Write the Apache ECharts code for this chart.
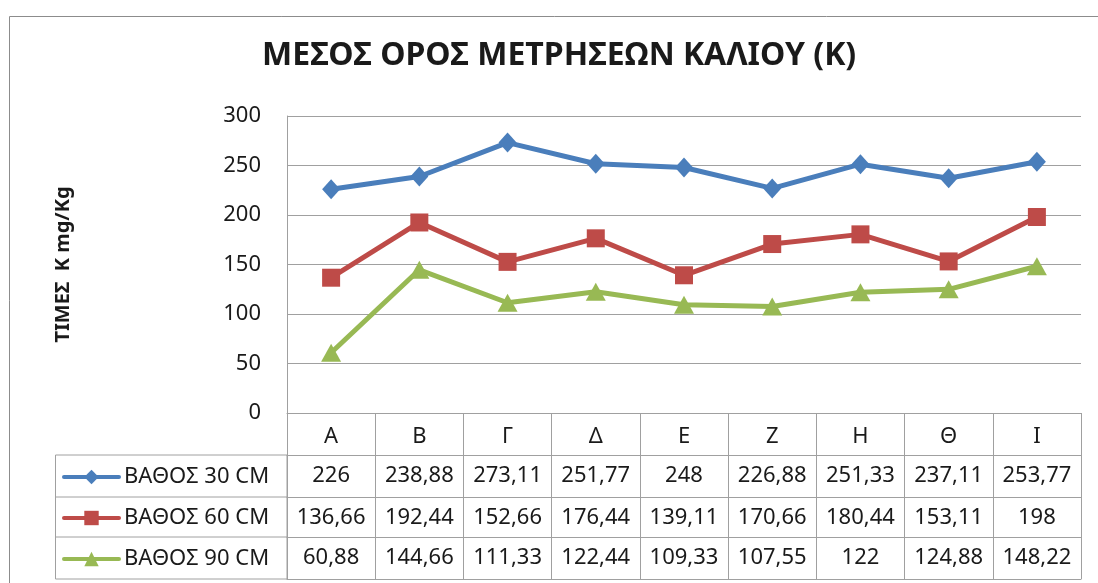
<!DOCTYPE html>
<html><head><meta charset="utf-8">
<script src="https://cdn.jsdelivr.net/npm/echarts@6/dist/echarts.min.js"></script>
<style>html,body{margin:0;padding:0;background:#fff}#c{width:1098px;height:583px}</style>
</head><body><div id="c"></div>
<script>
const categories = ['Α','Β','Γ','Δ','Ε','Ζ','Η','Θ','Ι'];
const seriesNames = ['ΒΑΘΟΣ 30 CM','ΒΑΘΟΣ 60 CM','ΒΑΘΟΣ 90 CM'];
const depth30 = [226,238.88,273.11,251.77,248,226.88,251.33,237.11,253.77];
const depth60 = [136.66,192.44,152.66,176.44,139.11,170.66,180.44,153.11,198];
const depth90 = [60.88,144.66,111.33,122.44,109.33,107.55,122,124.88,148.22];
const yMin = 0, yMax = 300, yStep = 50;
const titleText = 'ΜΕΣΟΣ ΟΡΟΣ ΜΕΤΡΗΣΕΩΝ ΚΑΛΙΟΥ (Κ)';
const yName = 'ΤΙΜΕΣ  Κ mg/Kg';

const FONT = '"Noto Sans", "DejaVu Sans", sans-serif';
const GRID = '#a0a0a0';
const TXT = '#1a1a1a';
const colors = ['#4A7EBB', '#BE4B48', '#98B954'];
const symbols = ['diamond', 'rect', 'triangle'];
const symSizes = [[18, 20], 18, [20, 18]];
const allSeries = [depth30, depth60, depth90];
const fmt = v => String(v).replace('.', ',');

const chart = echarts.init(document.getElementById('c'), null, {renderer: 'canvas'});

const xAxes = [{
  type: 'category', data: categories, boundaryGap: true, gridIndex: 0, position: 'bottom',
  axisLine: {show: true, lineStyle: {color: GRID, width: 1}},
  axisTick: {show: true, length: 166, lineStyle: {color: GRID, width: 1}},
  axisLabel: {interval: 0, fontSize: 22, color: TXT, fontFamily: FONT, margin: 13}
}];
const offsets = [42, 84, 124];
allSeries.forEach((arr, k) => {
  xAxes.push({
    type: 'category', data: categories, boundaryGap: true, gridIndex: 0, position: 'bottom', offset: offsets[k],
    axisLine: {show: true, lineStyle: {color: GRID, width: 1}},
    axisTick: {show: false},
    axisLabel: {interval: 0, fontSize: 22, color: TXT, fontFamily: FONT, margin: 10,
      formatter: (val, idx) => fmt(arr[idx])}
  });
});
xAxes.push({
  type: 'category', data: categories, boundaryGap: true, gridIndex: 0, position: 'bottom', offset: 166,
  axisLine: {show: true, lineStyle: {color: GRID, width: 1}},
  axisTick: {show: false}, axisLabel: {show: false}
});

chart.setOption({
  animation: false,
  backgroundColor: '#fff',
  title: {
    text: titleText, left: 262, top: 40, padding: 0,
    textStyle: {fontSize: 32, fontWeight: 'bold', color: TXT, fontFamily: FONT}
  },
  grid: {left: 287, right: 17, top: 116, bottom: 170, containLabel: false},
  legend: {
    orient: 'vertical', left: 62, top: 466, padding: 0, itemWidth: 55, itemHeight: 18, itemGap: 19,
    data: seriesNames,
    lineStyle: {width: 4, cap: 'round'},
    textStyle: {fontSize: 22, color: TXT, fontFamily: FONT, lineHeight: 22}
  },
  xAxis: xAxes,
  yAxis: {
    type: 'value', min: yMin, max: yMax, interval: yStep,
    name: yName, nameLocation: 'middle', nameRotate: 90, nameGap: 214,
    nameTextStyle: {fontSize: 20, fontWeight: 'bold', color: TXT, fontFamily: FONT},
    axisLine: {show: true, lineStyle: {color: GRID, width: 1}},
    axisTick: {show: false},
    splitLine: {lineStyle: {color: GRID, width: 1}},
    axisLabel: {fontSize: 22, color: TXT, fontFamily: FONT, margin: 26}
  },
  series: allSeries.map((arr, k) => ({
    name: seriesNames[k], type: 'line', data: arr, xAxisIndex: 0,
    symbol: symbols[k], symbolSize: symSizes[k], showAllSymbol: true,
    lineStyle: {color: colors[k], width: 5},
    itemStyle: {color: colors[k]}
  })),
  graphic: [
    {type: 'rect', shape: {x: 9.5, y: 16.5, width: 1300, height: 1000}, style: {fill: null, stroke: '#8c8c8c', lineWidth: 1}, silent: true, z: -1},
    {type: 'rect', shape: {x: 55.5, y: 455, width: 231.5, height: 124}, style: {fill: null, stroke: GRID, lineWidth: 1}, silent: true},
    {type: 'line', shape: {x1: 55.5, y1: 497, x2: 287, y2: 497}, style: {stroke: GRID, lineWidth: 1}, silent: true},
    {type: 'line', shape: {x1: 55.5, y1: 537, x2: 287, y2: 537}, style: {stroke: GRID, lineWidth: 1}, silent: true}
  ]
});
</script></body></html>
